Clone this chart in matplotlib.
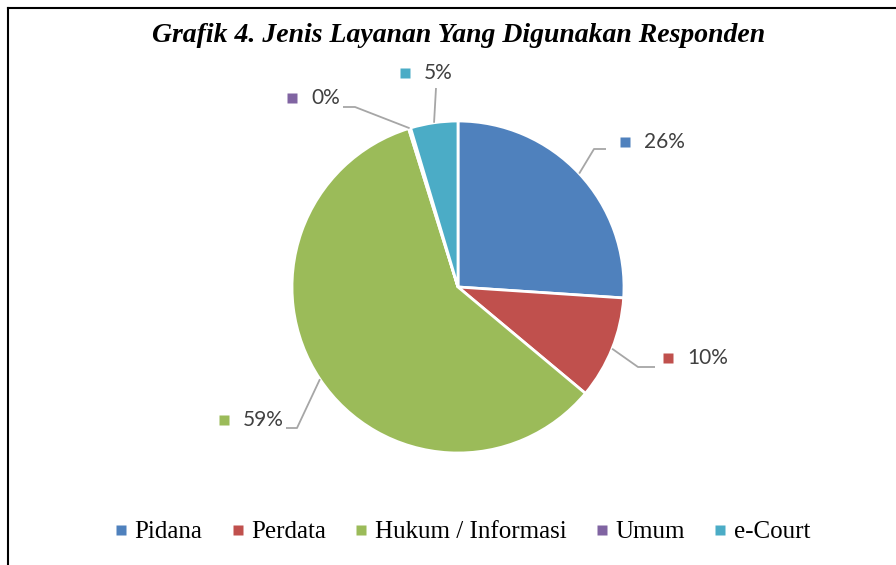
import matplotlib
matplotlib.use('Agg')
import matplotlib.pyplot as plt
from matplotlib.lines import Line2D
import numpy as np

categories = ['Pidana', 'Perdata', 'Hukum / Informasi', 'Umum', 'e-Court']
values = [26, 10, 59, 0.2, 4.6]
percent_labels = ['26%', '10%', '59%', '0%', '5%']
colors = ['#4F81BD', '#C0504D', '#9BBB59', '#8064A2', '#4BACC6']

W, H = 896, 565
CX, CY, R = 458, 287, 166


def px(x, y):
    # pixel position -> data units of the pie axis
    return (x - CX) / R, (CY - y) / R


# label layout (pixels): marker centre and leader elbow points
label_marker = [(625, 142), (668, 358), (224, 420), (292, 98), (405, 73)]
leader_pts = [
    [(594, 149), (606, 149)],
    [(638, 367), (655, 367)],
    [(297, 428), (286, 428)],
    [(355, 107), (343, 107)],
    [(436, 88)],
]

fig = plt.figure(figsize=(W / 100, H / 100), dpi=100)
ax = fig.add_axes([0, 0, 1, 1])

wedges, _ = ax.pie(values, colors=colors, startangle=90, counterclock=False,
                   radius=1, center=(0, 0),
                   wedgeprops=dict(edgecolor='white', linewidth=2))
ax.set_aspect('auto')
ax.set_xlim(-CX / R, (W - CX) / R)
ax.set_ylim((CY - H) / R, CY / R)
ax.axis('off')

for i, w in enumerate(wedges):
    mid = np.deg2rad((w.theta1 + w.theta2) / 2)
    xs = [np.cos(mid)]
    ys = [np.sin(mid)]
    for p in leader_pts[i]:
        dx, dy = px(*p)
        xs.append(dx)
        ys.append(dy)
    ax.plot(xs, ys, color='#A6A6A6', lw=1.3, solid_capstyle='butt')

    mx, my = px(*label_marker[i])
    ax.plot(mx, my, marker='s', ms=6.5, color=colors[i], mec='none')
    tx, ty = px(label_marker[i][0] + 19, label_marker[i][1])
    ax.text(tx, ty, percent_labels[i], ha='left', va='center',
            fontsize=15, family='Lato', color='#404040')

fig.text(459 / W, 1 - 35 / H, 'Grafik 4. Jenis Layanan Yang Digunakan Responden',
         ha='center', va='center', fontsize=20, family='Liberation Serif',
         fontweight='bold', fontstyle='italic', color='black')

handles = [Line2D([], [], ls='none', marker='s', ms=6.5, color=c, mec='none') for c in colors]
fig.legend(handles, categories, loc='center', bbox_to_anchor=(463 / W, 1 - 532 / H),
           ncol=5, frameon=False, handlelength=0.4, handletextpad=0.35,
           columnspacing=1.2, prop={'family': 'Liberation Serif', 'size': 18})

# frame edges: only top and left are visible in the crop
fig.add_artist(Line2D([8 / W, 1], [1 - 8 / H, 1 - 8 / H], color='black', lw=1.5))
fig.add_artist(Line2D([8 / W, 8 / W], [0, 1 - 8 / H], color='black', lw=1.5))

fig.savefig('out.png', dpi=100)
